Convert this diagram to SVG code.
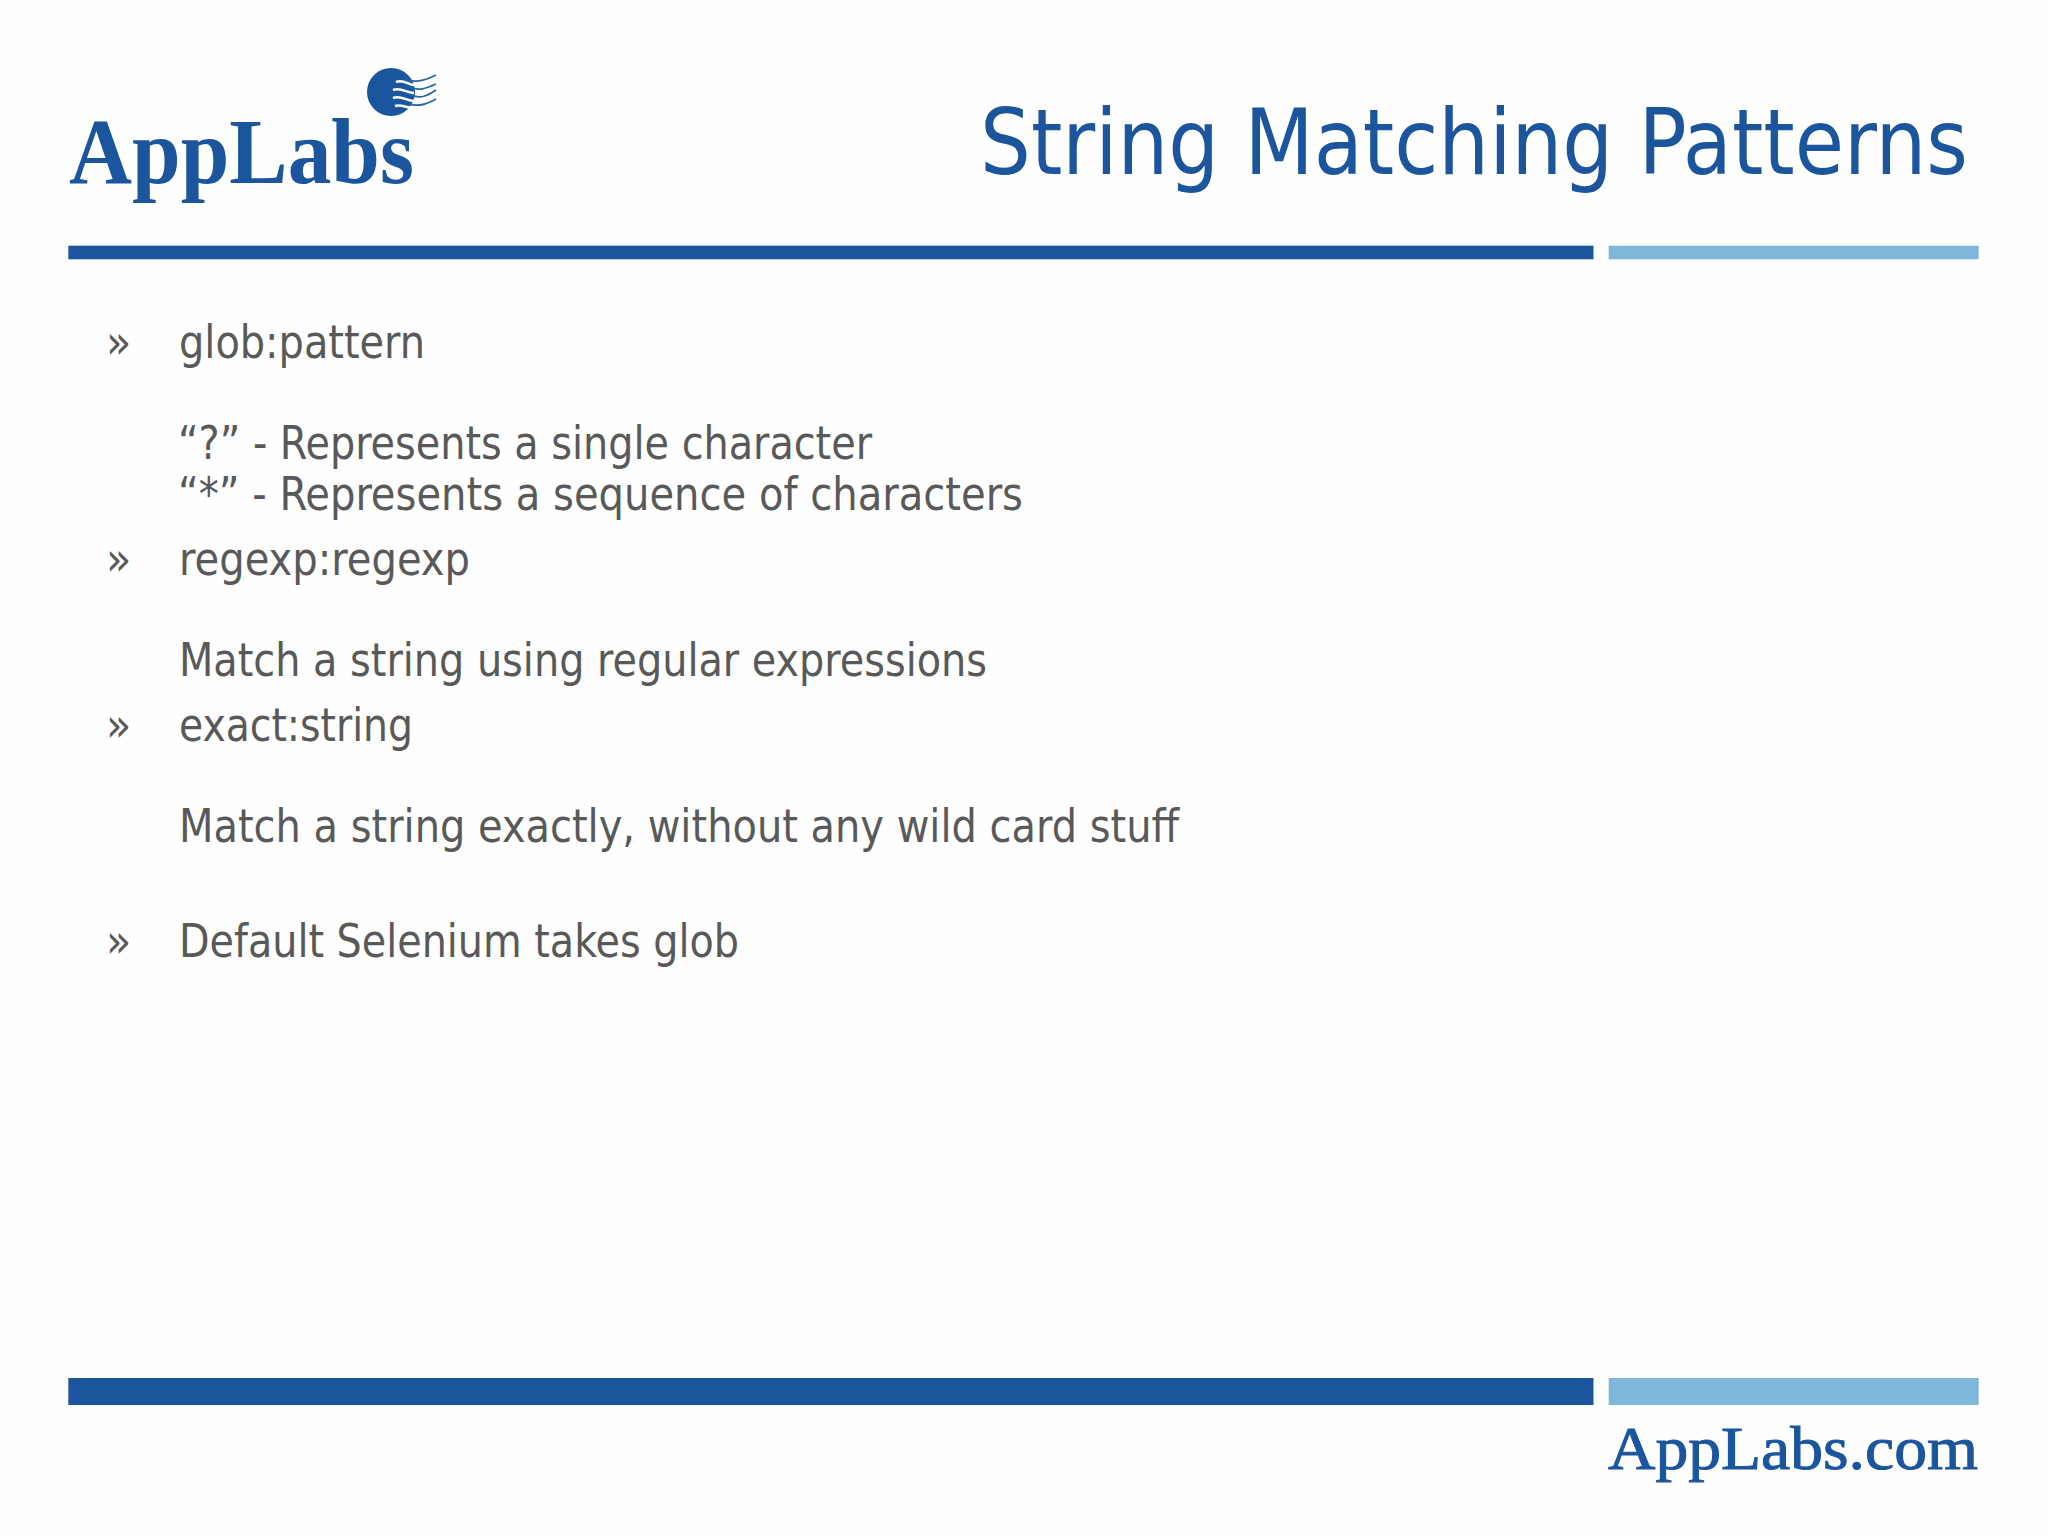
<svg xmlns="http://www.w3.org/2000/svg" width="2048" height="1536" viewBox="0 0 2048 1536">
<style>
.b{fill:#595959;font-family:"DejaVu Sans Condensed","DejaVu Sans",sans-serif;font-stretch:condensed;font-size:46px}
.l{fill:#1a559e;font-family:"Liberation Serif",serif;font-weight:700}
.w{fill:none;stroke:#fefefe;stroke-width:2.6}
.v{fill:none;stroke:#2a64a8;stroke-width:1.8}
</style>
<rect width="2048" height="1536" fill="#fefefe"/>
<rect x="68.300" y="245.700" width="1525.200" height="13.600" fill="#1a559e"/>
<rect x="1608.700" y="245.700" width="370" height="13.600" fill="#7fb7da"/>
<rect x="68.300" y="1378" width="1525.200" height="27" fill="#1a559e"/>
<rect x="1608.700" y="1378" width="370" height="27" fill="#7fb7da"/>
<g id="logo">
<circle cx="391" cy="92" r="24" fill="#1a559e"/>
<path class="w" d="M396 82c8-3 12 3 18 3M393 90c8-3 14 3 21 3M393 98c8-3 14 3 21 3M395 106c6-2 12 2 17 2"/>
<path class="v" d="M405 80c10 2 17 2 31-5M409 87c10 4 16 2 27-3M411 95c10 4 16 1 25-5M409 104c10 3 18 0 27-5"/>
<text class="l" x="69" y="183" font-size="93" textLength="345" lengthAdjust="spacingAndGlyphs">AppLabs</text>
</g>
<text x="980" y="174" fill="#1a559e" font-family="'DejaVu Sans Condensed','DejaVu Sans',sans-serif" font-stretch="condensed" font-size="90" textLength="988" lengthAdjust="spacingAndGlyphs">String Matching Patterns</text>
<text class="b" x="106" y="358">»</text>
<text class="b" x="179" y="358" textLength="246" lengthAdjust="spacingAndGlyphs">glob:pattern</text>
<text class="b" x="178" y="459" textLength="694" lengthAdjust="spacingAndGlyphs">“?” - Represents a single character</text>
<text class="b" x="178" y="510" textLength="845" lengthAdjust="spacingAndGlyphs">“*” - Represents a sequence of characters</text>
<text class="b" x="106" y="575">»</text>
<text class="b" x="179" y="575" textLength="291" lengthAdjust="spacingAndGlyphs">regexp:regexp</text>
<text class="b" x="179" y="676" textLength="808" lengthAdjust="spacingAndGlyphs">Match a string using regular expressions</text>
<text class="b" x="106" y="741">»</text>
<text class="b" x="179" y="741" textLength="234" lengthAdjust="spacingAndGlyphs">exact:string</text>
<text class="b" x="179" y="842" textLength="1000" lengthAdjust="spacingAndGlyphs">Match a string exactly, without any wild card stuff</text>
<text class="b" x="106" y="957">»</text>
<text class="b" x="179" y="957" textLength="560" lengthAdjust="spacingAndGlyphs">Default Selenium takes glob</text>
<text class="l" x="1608" y="1469" font-size="62" textLength="370" lengthAdjust="spacingAndGlyphs" style="font-weight:400;stroke:#1a559e;stroke-width:1">AppLabs.com</text>
</svg>
